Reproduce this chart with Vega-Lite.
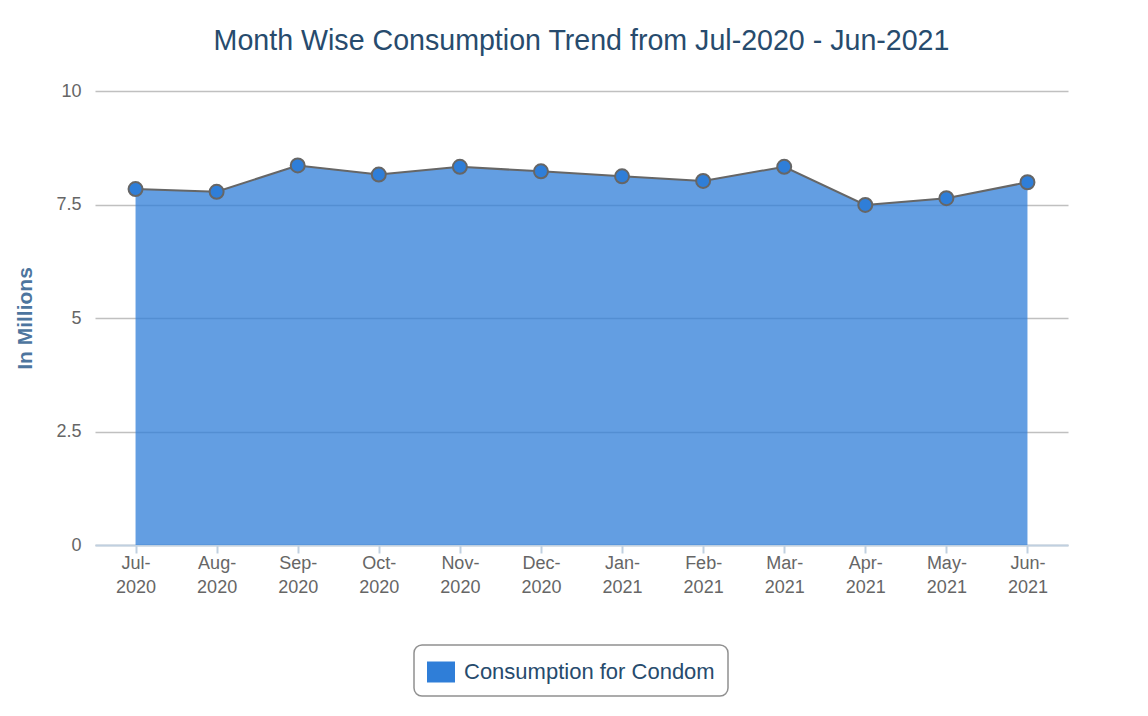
{
  "$schema": "https://vega.github.io/schema/vega-lite/v6.json",
  "width": 973,
  "height": 454,
  "autosize": {"type": "none"},
  "padding": {"left": 95, "top": 91, "right": 80, "bottom": 171},
  "background": "#ffffff",
  "config": {
    "font": "Liberation Sans",
    "view": {"stroke": null}
  },
  "title": {
    "text": "Month Wise Consumption Trend from Jul-2020 - Jun-2021",
    "fontSize": 28.6,
    "fontWeight": "normal",
    "color": "#274b6d",
    "anchor": "middle",
    "frame": "group",
    "baseline": "alphabetic",
    "offset": 3
  },
  "data": {
    "values": [
      {"month": "Jul-2020", "value": 7.84},
      {"month": "Aug-2020", "value": 7.78},
      {"month": "Sep-2020", "value": 8.36},
      {"month": "Oct-2020", "value": 8.16},
      {"month": "Nov-2020", "value": 8.33},
      {"month": "Dec-2020", "value": 8.23},
      {"month": "Jan-2021", "value": 8.12},
      {"month": "Feb-2021", "value": 8.02},
      {"month": "Mar-2021", "value": 8.33},
      {"month": "Apr-2021", "value": 7.49},
      {"month": "May-2021", "value": 7.64},
      {"month": "Jun-2021", "value": 7.99}
    ]
  },
  "encoding": {
    "x": {
      "field": "month",
      "type": "ordinal",
      "sort": null,
      "scale": {"type": "point", "padding": 0.5},
      "axis": {
        "title": null,
        "labelAngle": 0,
        "labelExpr": "[slice(datum.label, 0, 4), slice(datum.label, 4)]",
        "labelFontSize": 18,
        "labelColor": "#666666",
        "labelLineHeight": 24.5,
        "labelPadding": 1,
        "domainColor": "#C0D0E0",
        "domainWidth": 2,
        "tickColor": "#C0D0E0",
        "tickWidth": 2,
        "tickSize": 8,
        "grid": false
      }
    },
    "y": {
      "field": "value",
      "type": "quantitative",
      "scale": {"domain": [0, 10], "nice": false},
      "axis": {
        "title": "In Millions",
        "titleFontSize": 21,
        "titleFontWeight": "bold",
        "titleColor": "#4d759e",
        "titleX": -70,
        "titleBaseline": "middle",
        "values": [0, 2.5, 5, 7.5, 10],
        "labelExpr": "'' + datum.value",
        "labelFontSize": 18,
        "labelColor": "#666666",
        "labelPadding": 14,
        "domain": false,
        "ticks": false,
        "grid": true,
        "gridColor": "#C0C0C0",
        "gridWidth": 1.5
      }
    }
  },
  "layer": [
    {
      "mark": {"type": "area", "opacity": 0.75},
      "encoding": {
        "color": {
          "datum": "Consumption for Condom",
          "type": "nominal",
          "scale": {"range": ["#2f7ed8"]},
          "legend": {
            "title": null,
            "orient": "none",
            "legendX": 319,
            "legendY": 554,
            "padding": 13,
            "strokeColor": "#909090",
            "cornerRadius": 8,
            "symbolType": "M-1,-0.75 L1,-0.75 L1,0.75 L-1,0.75 Z",
            "symbolSize": 784,
            "symbolOpacity": 1,
            "symbolStrokeWidth": 0,
            "labelFontSize": 22,
            "labelLimit": 400,
            "labelColor": "#274b6d",
            "labelOffset": 9,
            "encode": {"legend": {"update": {"strokeWidth": {"value": 1.5}}}}
          }
        }
      }
    },
    {
      "mark": {"type": "line", "color": "#666666", "strokeWidth": 2},
      "encoding": {}
    },
    {
      "mark": {"type": "point", "filled": true, "fill": "#2f7ed8", "stroke": "#666666", "strokeWidth": 2, "size": 196, "opacity": 1},
      "encoding": {}
    }
  ]
}
